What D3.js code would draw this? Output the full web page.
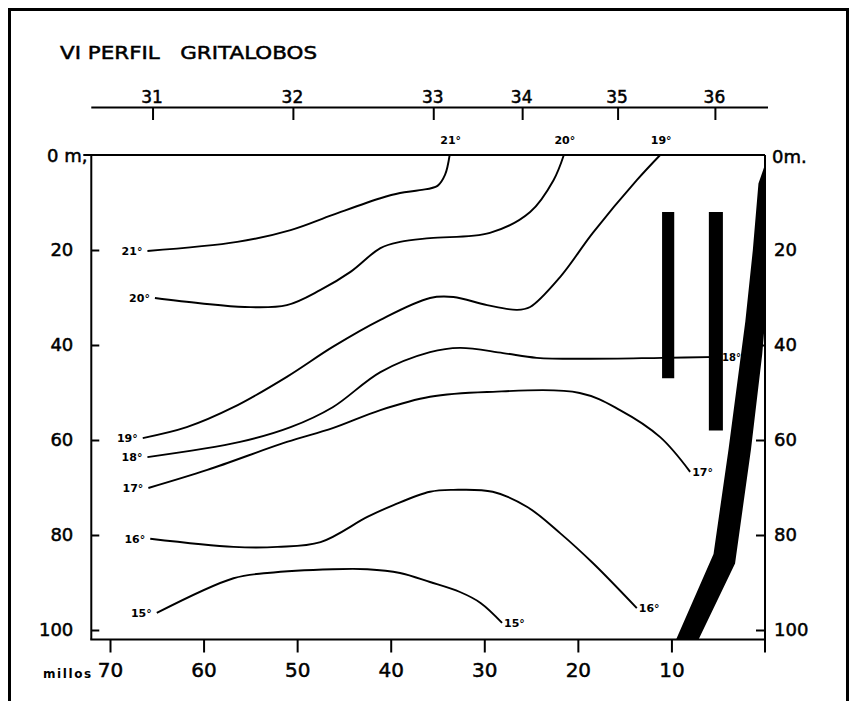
<!DOCTYPE html>
<html>
<head>
<meta charset="utf-8">
<script src="https://cdn.jsdelivr.net/npm/d3@7"></script>
<style>
  body { margin: 0; background: #fff; }
  svg { display: block; }
  .ink { stroke: #000; stroke-width: 0.5px; }
</style>
</head>
<body>
<svg class="perfil" width="855" height="701"></svg>
<script>
// isotherm data, [miles from coast, depth in m]
const isoTemps = [21, 20, 19, 18, 17, 16, 15];
const iso21 = [[66.0, 20.2], [56.4, 18.3], [50.7, 15.8], [46.2, 12.6], [41.1, 9.1], [39.0, 8.0], [36.9, 7.4], [35.0, 6.5], [34.2, 4.2], [33.7, 0]];
const iso20 = [[65.2, 30.1], [60.4, 31.2], [55.6, 32.0], [51.1, 31.6], [47.5, 28.4], [44.3, 24.6], [41.1, 19.6], [39.0, 18.3], [35.8, 17.5], [29.4, 16.4], [25.1, 12.0], [22.6, 5.3], [21.5, 0]];
const iso19 = [[66.5, 59.6], [61.8, 57.3], [56.8, 53.1], [51.1, 46.7], [46.2, 40.4], [41.1, 34.7], [35.8, 30.1], [33.3, 29.9], [29.7, 31.6], [26.5, 32.6], [25.1, 32.0], [21.9, 25.7], [18.4, 16.4], [13.7, 5.3], [11.2, 0]];
const iso18 = [[66.0, 63.6], [56.1, 60.4], [50.7, 57.3], [46.2, 53.1], [41.1, 45.7], [35.8, 41.5], [32.6, 40.6], [28.0, 41.7], [24.4, 42.7], [19.0, 42.9], [11.0, 42.7], [4.8, 42.5]];
const iso17 = [[65.9, 70.1], [59.6, 66.3], [51.1, 60.4], [46.2, 57.5], [41.1, 53.7], [35.8, 50.9], [29.7, 49.9], [19.8, 50.1], [15.5, 53.7], [11.2, 59.4], [8.0, 66.7]];
const iso16 = [[65.7, 80.8], [56.8, 82.5], [52.1, 82.5], [47.5, 81.5], [42.5, 76.2], [39.7, 73.7], [35.8, 70.9], [33.3, 70.5], [29.1, 70.9], [25.4, 74.1], [21.9, 79.6], [18.4, 85.9], [13.7, 95.4]];
const iso15 = [[65.0, 96.4], [56.8, 89.1], [53.2, 88.0], [46.2, 87.2], [42.5, 87.2], [39.0, 88.0], [35.8, 89.9], [32.6, 92.0], [30.4, 94.3], [28.1, 98.5]];
const isoLines = [iso21, iso20, iso19, iso18, iso17, iso16, iso15];

// stations on top axis (name, miles)
const stationNames = ["31", "32", "33", "34", "35", "36"];
const stationMiles = [65.4, 50.4, 35.4, 25.9, 15.7, 5.3];

// axes ticks
const milesTicks = [70, 60, 50, 40, 30, 20, 10];
const depthTicks = [20, 40, 60, 80, 100];

// black columns (miles from-to, depth top-bottom)
const columnMiles = [[11.0, 9.7], [6.0, 4.5]];
const columnDepths = [[12, 47], [12, 58]];

// slope wedge: left edge going down, right edge coming back up
const wedgeLeft = [[0, 2], [0.7, 6], [1.3, 20], [2.1, 35], [3.9, 62], [5.5, 84], [9.5, 102]];
const wedgeRight = [[7.1, 102], [3.2, 86], [1.5, 62], [0.3, 42], [0, 35], [0, 2]];

const frameMiles = [72, 0];
const frameDepth = [0, 102];

const svg = d3.select(".perfil");
const font = `"DejaVu Sans", sans-serif`;

//make scales
const x = d3.scaleLinear().domain([0, 70]).range([765, 110]);
const y = d3.scaleLinear().domain([0, 100]).range([155, 630]);

// outer frame of the figure
svg
  .append("rect")
  .attr("x", 9.5)
  .attr("y", 9.5)
  .attr("width", 838)
  .attr("height", 720)
  .attr("fill", "none")
  .attr("stroke", "#000")
  .attr("stroke-width", 3);

svg
  .append("text")
  .attr("x", 60)
  .attr("y", 59)
  .attr("class", "ink")
  .attr("font-family", font)
  .attr("font-size", 18)
  .attr("textLength", 257)
  .attr("lengthAdjust", "spacingAndGlyphs")
  .style("white-space", "pre")
  .text("VI PERFIL   GRITALOBOS");

// top station axis
const stationAxis = svg.append("g").attr("class", "stations");
stationAxis
  .append("line")
  .attr("x1", x(frameMiles[0]))
  .attr("x2", x(frameMiles[1]) + 3)
  .attr("y1", 107.5)
  .attr("y2", 107.5)
  .attr("stroke", "#000")
  .attr("stroke-width", 2);
stationAxis
  .selectAll("line.tick")
  .data(stationMiles)
  .join("line")
  .attr("class", "tick")
  .attr("x1", d => x(d))
  .attr("x2", d => x(d))
  .attr("y1", 107)
  .attr("y2", 120)
  .attr("stroke", "#000")
  .attr("stroke-width", 2);
stationAxis
  .selectAll("text")
  .data(stationNames)
  .join("text")
  .attr("class", "ink")
  .attr("x", (d, i) => x(stationMiles[i]) - 1)
  .attr("y", 103)
  .attr("text-anchor", "middle")
  .attr("font-family", font)
  .attr("font-size", 17)
  .text(d => d);

// plot frame
const plot = svg.append("g").attr("class", "plot");
const frameLine = (x1, y1, x2, y2) =>
  plot
    .append("line")
    .attr("x1", x1)
    .attr("y1", y1)
    .attr("x2", x2)
    .attr("y2", y2)
    .attr("stroke", "#000")
    .attr("stroke-width", 2);
frameLine(x(frameMiles[0]) - 8, y(0), x(0), y(0));
frameLine(x(frameMiles[0]), y(0), x(frameMiles[0]), y(frameDepth[1]));
frameLine(x(frameMiles[0]) - 1, y(frameDepth[1]), x(0), y(frameDepth[1]));
frameLine(x(0), y(0), x(0), y(frameDepth[1]) + 13);

//make axis
const xAxis = g => {
  g.attr("transform", `translate(0, ${y(frameDepth[1])})`).call(
    d3.axisBottom(x).tickValues(milesTicks).tickSize(13).tickPadding(10)
  );
  g.select(".domain").remove();
  g.selectAll("line").attr("stroke-width", 2);
  g.selectAll("text").attr("class", "ink").attr("font-family", font).attr("font-size", 20);
  return g;
};
const yAxisLeft = g => {
  g.attr("transform", `translate(${x(frameMiles[0])}, 0)`).call(
    d3.axisLeft(y).tickValues(depthTicks).tickSizeInner(-8).tickSizeOuter(0).tickPadding(18)
  );
  g.select(".domain").remove();
  g.selectAll("line").attr("stroke-width", 2);
  g.selectAll("text").attr("class", "ink").attr("font-family", font).attr("font-size", 18);
  return g;
};
const yAxisRight = g => {
  g.attr("transform", `translate(${x(0)}, 0)`).call(
    d3.axisRight(y).tickValues(depthTicks).tickSizeInner(-9).tickSizeOuter(0).tickPadding(9)
  );
  g.select(".domain").remove();
  g.selectAll("line").attr("stroke-width", 2);
  g.selectAll("text").attr("class", "ink").attr("font-family", font).attr("font-size", 18);
  return g;
};
plot.append("g").call(xAxis);
plot.append("g").call(yAxisLeft);
plot.append("g").call(yAxisRight);

svg
  .append("text")
  .attr("class", "ink")
  .attr("x", 47)
  .attr("y", y(0) + 7)
  .attr("font-family", font)
  .attr("font-size", 18)
  .text("0 m,");
svg
  .append("text")
  .attr("class", "ink")
  .attr("x", x(0) + 7)
  .attr("y", y(0) + 8)
  .attr("font-family", font)
  .attr("font-size", 18)
  .text("0m.");
svg
  .append("text")
  .attr("x", 43)
  .attr("y", y(frameDepth[1]) + 38)
  .attr("font-family", font)
  .attr("font-weight", "bold")
  .attr("font-size", 12)
  .attr("letter-spacing", 1.6)
  .text("millos");

// black columns and slope wedge
plot
  .selectAll("rect.column")
  .data(columnMiles)
  .join("rect")
  .attr("class", "column")
  .attr("x", d => x(d[0]))
  .attr("width", d => x(d[1]) - x(d[0]))
  .attr("y", (d, i) => y(columnDepths[i][0]))
  .attr("height", (d, i) => y(columnDepths[i][1]) - y(columnDepths[i][0]))
  .attr("fill", "#000");

plot
  .append("polygon")
  .attr("points", wedgeLeft.concat(wedgeRight).map(d => [x(d[0]), y(d[1])].join(",")).join(" "))
  .attr("fill", "#000");

// isotherm lines
const valueLine = d3
  .line()
  .x(d => x(d[0]))
  .y(d => y(d[1]))
  .curve(d3.curveCatmullRom.alpha(0.5));

const iso = plot.append("g").attr("class", "isotherms");
iso
  .selectAll("path")
  .data(isoLines)
  .join("path")
  .attr("d", valueLine)
  .attr("fill", "none")
  .attr("stroke", "#000")
  .attr("stroke-width", 1.9);

// labels at the offshore end of each line
iso
  .selectAll("text.start")
  .data(isoLines)
  .join("text")
  .attr("class", "start")
  .attr("x", d => x(d[0][0]) - 5)
  .attr("y", d => y(d[0][1]))
  .attr("dy", "0.38em")
  .attr("text-anchor", "end")
  .attr("font-family", font)
  .attr("font-weight", "bold")
  .attr("font-size", 11)
  .text((d, i) => `${isoTemps[i]}°`);

// labels at the other end: above the surface line or right of the end point
iso
  .selectAll("text.end")
  .data(isoLines)
  .join("text")
  .attr("class", "end")
  .attr("x", d => {
    const p = d[d.length - 1];
    return p[1] === 0 ? x(p[0]) + 1 : x(p[0]) + 2;
  })
  .attr("y", d => {
    const p = d[d.length - 1];
    return p[1] === 0 ? y(0) - 11 : y(p[1]) + 4;
  })
  .attr("text-anchor", d => (d[d.length - 1][1] === 0 ? "middle" : "start"))
  .attr("font-family", font)
  .attr("font-weight", "bold")
  .attr("font-size", d => (d[d.length - 1][0] < 6 ? 10 : 11))
  .text((d, i) => `${isoTemps[i]}°`);
</script>
</body>
</html>
